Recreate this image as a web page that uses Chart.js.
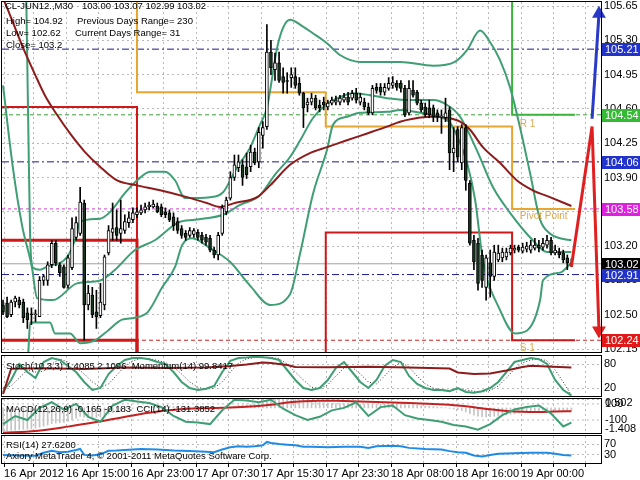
<!DOCTYPE html>
<html><head><meta charset="utf-8">
<script src="https://cdn.jsdelivr.net/npm/chart.js@4.4.1/dist/chart.umd.min.js"></script>
<style>
html,body{margin:0;padding:0;background:#fff;}
#wrap{position:relative;width:640px;height:480px;overflow:hidden;background:#fff;}
canvas{position:absolute;left:0;}
.t{position:absolute;font:9.5px "Liberation Sans",Arial,sans-serif;color:#000;white-space:pre;line-height:12px;z-index:10;}
</style></head><body>
<div id="wrap">
<canvas id="cMain" width="640" height="360" style="top:0px"></canvas>
<canvas id="cStoch" width="640" height="56" style="top:346px"></canvas>
<canvas id="cMacd" width="640" height="49" style="top:390px"></canvas>
<canvas id="cRsi" width="640" height="52" style="top:428px"></canvas>
<div class="t" style="left:5px;top:0px">CL-JUN12.,M30</div>
<div class="t" style="left:82px;top:0px">103.00 103.07 102.99 103.02</div>
<div class="t" style="left:6px;top:15px">High= 104.92</div>
<div class="t" style="left:77px;top:15px">Previous Days Range= 230</div>
<div class="t" style="left:6px;top:27px">Low= 102.62</div>
<div class="t" style="left:75px;top:27px">Current Days Range= 31</div>
<div class="t" style="left:6px;top:39px">Close= 103.2</div>
<div class="t" style="left:6px;top:360px">Stoch(10,3,3) 1.4085 2.1096  Momentum(14) 99.8417</div>
<div class="t" style="left:6px;top:403px">MACD(12,26,9) -0.165 -0.183  CCI(14) -131.3852</div>
<div class="t" style="left:6px;top:439px">RSI(14) 27.6200</div>
<div class="t" style="left:6px;top:450px">Axiory MetaTrader 4, © 2001-2011 MetaQuotes Software Corp.</div>
</div>
<script>
// ---------------- DATA ----------------
const timeLabels = ['16 Apr 2012','16 Apr 15:00','16 Apr 23:00','17 Apr 07:30','17 Apr 15:30','17 Apr 23:30','18 Apr 08:00','18 Apr 16:00','19 Apr 00:00'];
const priceTicks = [102.15,102.50,102.85,103.20,103.55,103.90,104.25,104.60,104.95,105.30,105.65];

const opens = [102.60,102.62,102.50,102.63,102.65,102.63,102.52,102.51,102.50,102.48,
102.85,102.85,103.01,103.23,103.01,102.99,102.80,102.98,103.29,103.33,
103.64,102.60,102.70,102.53,102.49,102.60,103.13,103.34,103.39,103.33,
103.36,103.44,103.47,103.52,103.54,103.57,103.60,103.60,103.61,103.60,
103.55,103.54,103.50,103.45,103.38,103.33,103.31,103.32,103.34,103.31,
103.29,103.28,103.16,103.11,103.33,103.55,103.69,103.90,104.00,104.03,
104.01,104.01,104.16,104.06,104.33,104.42,105.18,105.00,105.07,104.93,
104.89,104.92,104.93,104.86,104.76,104.64,104.67,104.71,104.64,104.67,
104.62,104.66,104.67,104.67,104.69,104.72,104.71,104.76,104.67,104.67,
104.62,104.56,104.82,104.82,104.77,104.81,104.84,104.86,104.86,104.81,
104.56,104.79,104.77,104.66,104.62,104.61,104.61,104.56,104.52,104.51,
104.59,104.15,104.39,104.05,104.41,103.84,103.26,103.23,103.11,102.78,
103.03,102.89,103.06,103.08,103.09,103.13,103.16,103.19,103.15,103.17,
103.16,103.18,103.21,103.19,103.21,103.26,103.13,103.14,103.13,103.08,
103.00];
const highs = [102.65,102.68,102.65,102.69,102.68,102.66,102.57,102.57,102.55,102.89,
102.91,103.04,103.26,103.26,103.03,103.01,103.11,103.49,103.50,103.80,
103.67,102.80,102.78,102.75,102.82,103.11,103.41,103.64,103.57,103.67,
103.52,103.55,103.59,103.59,103.62,103.64,103.65,103.67,103.64,103.63,
103.59,103.57,103.54,103.49,103.41,103.36,103.39,103.38,103.37,103.34,
103.32,103.31,103.19,103.34,103.62,103.70,103.96,104.13,104.13,104.08,
104.15,104.23,104.20,104.41,104.47,105.46,105.30,105.17,105.18,105.02,
104.97,105.02,105.02,104.92,104.77,104.71,104.76,104.74,104.69,104.72,
104.69,104.72,104.73,104.74,104.76,104.77,104.79,104.81,104.76,104.71,
104.66,104.84,104.86,104.86,104.86,104.92,104.93,104.89,104.89,104.84,
104.89,104.89,104.79,104.69,104.66,104.69,104.64,104.59,104.59,104.71,
104.62,104.41,104.42,104.44,104.44,103.87,103.31,103.28,103.16,103.11,
103.16,103.21,103.21,103.18,103.18,103.21,103.21,103.21,103.23,103.24,
103.26,103.28,103.26,103.28,103.31,103.29,103.21,103.18,103.16,103.11,
103.07];
const lows = [102.50,102.47,102.48,102.58,102.57,102.42,102.36,102.40,102.43,102.48,
102.80,102.80,102.98,103.00,102.89,102.77,102.77,102.96,103.26,103.31,
102.24,102.55,102.47,102.36,102.47,102.55,103.11,103.26,103.26,103.23,
103.33,103.39,103.44,103.49,103.52,103.54,103.57,103.59,103.54,103.50,
103.49,103.45,103.36,103.33,103.28,103.26,103.29,103.29,103.26,103.23,
103.21,103.14,103.08,103.06,103.31,103.52,103.67,103.87,103.96,103.82,
103.89,103.96,104.03,104.00,104.20,104.39,104.95,104.89,104.87,104.76,
104.76,104.82,104.81,104.74,104.41,104.57,104.64,104.59,104.57,104.59,
104.59,104.64,104.64,104.64,104.67,104.64,104.69,104.66,104.64,104.59,
104.54,104.54,104.76,104.74,104.74,104.79,104.81,104.79,104.77,104.52,
104.54,104.72,104.64,104.57,104.52,104.51,104.47,104.47,104.35,104.47,
103.98,103.96,104.06,103.98,103.77,103.21,102.96,102.75,102.78,102.65,
102.68,102.85,103.04,103.04,103.06,103.11,103.13,103.14,103.13,103.14,
103.13,103.16,103.14,103.16,103.18,103.11,103.11,103.08,103.03,102.96,
102.99];
const closes = [102.53,102.48,102.63,102.67,102.60,102.47,102.45,102.50,102.51,102.85,
102.89,103.01,103.23,103.03,102.93,102.78,103.08,103.38,103.44,103.65,
102.60,102.72,102.50,102.48,102.63,103.09,103.36,103.38,103.31,103.38,
103.45,103.49,103.54,103.55,103.57,103.60,103.62,103.63,103.55,103.52,
103.52,103.47,103.41,103.36,103.31,103.29,103.36,103.36,103.29,103.26,
103.24,103.16,103.11,103.31,103.59,103.67,103.90,104.03,104.06,103.90,
103.93,104.16,104.05,104.36,104.41,105.18,105.02,105.07,104.89,104.87,
104.88,104.95,104.84,104.76,104.61,104.67,104.71,104.61,104.61,104.64,
104.66,104.69,104.69,104.71,104.72,104.67,104.76,104.69,104.72,104.62,
104.56,104.81,104.79,104.77,104.82,104.86,104.87,104.82,104.81,104.54,
104.81,104.74,104.66,104.59,104.54,104.54,104.52,104.52,104.53,104.56,
104.15,104.20,104.11,104.41,103.87,103.23,103.04,102.82,102.85,103.08,
102.89,103.14,103.13,103.14,103.14,103.18,103.18,103.16,103.19,103.20,
103.21,103.21,103.18,103.23,103.26,103.13,103.16,103.11,103.06,103.03,
103.02];

// moving average (dark red)
const maBars = [0,1.7,3.7,5.4,7.9,10.3,13.3,16.5,20.2,23.9,28.1,33.0,38.7,45.3,50.2,53.4,57.1,62.6,65.8,70.7,75.6,79.8,84.7,89.7,94.6,97.8,101.0,105.2,109.4,112.6,115.0,118.2,122.4,126.6,130.5,134.7,140.0];
const maVals = [105.73,105.56,105.35,105.18,104.95,104.74,104.54,104.35,104.16,104.01,103.87,103.82,103.77,103.70,103.64,103.60,103.64,103.70,103.82,104.03,104.15,104.21,104.28,104.35,104.42,104.47,104.50,104.52,104.51,104.47,104.39,104.21,104.05,103.87,103.77,103.70,103.61];

// Bollinger bands (green)
const bandUpBars = [5.7,6.2,6.7,7.4,9.1,10.8,15.8,17.7,19.0,23.9,26.4,30.0,33.0,36.2,39.9,42.4,44.8,51.0,54.2,57.6,60.8,63.3,65.0,67.5,69.0,70.7,73.9,76.4,79.8,83.0,87.9,97.8,106.0,111.3,114.3,117.5,120.0,122.4,124.9,127.3,129.8,132.3,134.7,137.2,140.0];
const bandUpVals = [105.81,104.49,103.26,102.98,102.96,102.99,103.09,103.26,103.45,103.48,103.55,103.74,103.87,103.96,103.96,103.87,103.69,103.70,103.75,104.00,104.20,104.44,104.61,105.22,105.43,105.51,105.44,105.37,105.27,105.15,105.08,105.08,105.04,105.08,105.20,105.40,105.28,105.10,104.82,104.42,103.95,103.47,103.33,103.28,103.26];
const bandMidBars = [0,2.5,4.7,7.1,8.4,12.3,18.2,23.9,27.6,32.5,37.4,43.1,47.3,54.2,58.4,63.3,67.0,70.7,73.2,76.4,79.8,83.0,86.2,90.4,94.6,101.0,106.0,109.4,112.6,116.7,120.7,124.9,130.5,134.0,140.0];
const bandMidVals = [104.84,103.98,103.41,102.99,102.67,102.65,102.82,102.85,102.96,103.16,103.26,103.44,103.47,103.52,103.62,103.72,103.93,104.11,104.28,104.51,104.65,104.72,104.76,104.74,104.71,104.69,104.69,104.64,104.52,104.18,103.80,103.54,103.26,103.14,103.14];
const bandLowBars = [6.2,6.7,11.6,12.8,16.5,19.0,22.7,25.9,29.3,32.5,35.7,39.2,42.4,44.1,46.6,51.0,55.9,60.8,65.8,70.7,73.2,76.4,79.8,81.3,84.7,87.9,94.6,97.8,102.7,107.6,110.1,112.6,114.3,116.3,118.2,122.4,126.1,129.1,132.3,133.0,137.2,140.0];
const bandLowVals = [102.09,102.42,102.42,102.31,102.31,102.21,102.24,102.34,102.45,102.47,102.53,102.78,102.99,103.21,103.28,103.18,103.04,102.80,102.60,102.71,103.13,103.74,104.18,104.44,104.52,104.56,104.57,104.59,104.56,104.52,104.46,104.25,104.05,103.67,103.06,102.55,102.31,102.34,102.65,102.85,102.93,103.03];

// daily pivot levels (step lines)
const dayStartBars = [-0.25,33,79.5,125.4];
const dayEndBar = 140.9;
const pivotVals = [106.2,104.77,104.42,103.58];
const r1Vals = [107.5,107.0,106.3,104.54];
const s1Vals = [104.62,101.6,103.34,102.24];
const s2Vals = [103.26,100.8,101.9,101.28];
const s3Vals = [102.24,100.0,101.0,100.1];

// horizontal levels with right-hand labels
const levelVals = [105.21,104.54,104.06,103.58,103.02,102.91,102.24];

// forecast arrows
const arrowRedBars = [140,145.1,146.8];
const arrowRedVals = [102.99,104.42,102.34];
const arrowBlueBars = [145.1,146.8];
const arrowBlueVals = [104.50,105.57];

// text labels on chart
const annoTexts = ['R 1','Pivot Point','S 1'];
const annoBars = [127.3,127.3,127.3];
const annoVals = [104.44,103.50,102.16];

// Stochastic + Momentum
const stochBars = [0,2,4,6,8,10,12,14,16,18,20,22,24,26,28,30,32,34,36,38,40,42,44,46,48,50,52,54,56,58,60,62,64,66,68,70,72,74,76,78,80,82,84,86,88,90,92,94,96,98,100,102,104,106,108,110,112,114,116,118,120,122,124,126,128,130,132,134,136,138,140];
const stochMain = [10,40,80,60,45,85,95,90,75,60,35,15,20,55,75,90,95,95,92,85,80,60,35,20,15,18,25,60,88,95,96,98,97,95,90,65,40,20,15,20,40,70,85,60,35,20,40,75,90,85,50,30,20,15,15,12,20,10,8,12,20,35,60,85,90,95,92,80,40,15,1.4];
const stochSignal = [20,25,45,65,60,62,80,92,85,72,55,35,22,30,52,75,88,94,93,89,84,72,55,35,22,17,20,35,60,82,93,96,97,96,93,80,60,40,22,18,28,50,70,72,55,35,30,50,72,85,72,50,30,20,16,14,16,15,12,10,14,25,45,68,83,90,93,88,65,35,2.1];
const momBars = [0,2,10,20,30,40,50,56,60,64,66,70,72,80,90,100,110,112,116,120,124,128,130,134,140];
const momVals = [97.2,99.72,99.78,99.7,99.85,99.8,99.85,100.0,100.15,100.35,100.3,100.1,99.9,99.88,99.92,99.85,99.75,99.35,99.2,99.25,99.55,99.9,100.02,99.95,99.84];
const stochLevels = [20,80];

// MACD + CCI
const macdHist = [-1.30,-1.28,-1.26,-1.25,-1.22,-1.20,-1.19,-1.17,-1.14,-1.08,
-1.02,-0.96,-0.88,-0.85,-0.83,-0.82,-0.76,-0.67,-0.58,-0.48,
-0.52,-0.52,-0.53,-0.54,-0.52,-0.44,-0.35,-0.28,-0.23,-0.18,
-0.13,-0.08,-0.04,0.00,0.03,0.06,0.08,0.10,0.11,0.11,
0.11,0.10,0.08,0.06,0.04,0.02,0.01,0.00,-0.01,-0.02,
-0.04,-0.06,-0.08,-0.08,-0.04,0.00,0.05,0.10,0.14,0.16,
0.18,0.20,0.22,0.26,0.30,0.40,0.45,0.48,0.50,0.50,
0.49,0.48,0.47,0.45,0.42,0.40,0.38,0.36,0.33,0.30,
0.28,0.26,0.25,0.24,0.23,0.22,0.22,0.21,0.21,0.20,
0.19,0.19,0.20,0.20,0.21,0.21,0.22,0.22,0.21,0.20,
0.18,0.17,0.15,0.13,0.11,0.09,0.07,0.05,0.03,0.02,
-0.03,-0.07,-0.11,-0.15,-0.22,-0.32,-0.40,-0.46,-0.49,-0.50,
-0.49,-0.47,-0.45,-0.42,-0.39,-0.36,-0.32,-0.28,-0.25,-0.22,
-0.19,-0.17,-0.15,-0.13,-0.12,-0.12,-0.13,-0.14,-0.15,-0.16,
-0.165];
const macdSigBars = [0,8,16,24,32,40,48,56,62,66,70,74,78,82,88,94,100,106,112,116,120,124,128,132,136,140];
const macdSigVals = [-1.40,-1.30,-1.05,-0.75,-0.42,-0.15,-0.02,0.02,0.10,0.18,0.30,0.38,0.41,0.40,0.36,0.32,0.28,0.22,0.14,0.04,-0.08,-0.17,-0.22,-0.23,-0.20,-0.183];
const macdTicks = [0.502,-1.408];
const cciBars = [0,3,6,9,12,15,18,21,24,27,30,33,36,39,42,45,48,51,54,57,60,63,66,69,72,75,78,81,84,87,90,93,96,99,102,105,108,111,114,117,120,123,126,129,132,135,138,140];
const cciVals = [-150,-50,-100,50,120,30,100,-60,-120,80,150,130,110,60,-50,-120,-130,-150,20,150,140,120,150,40,-40,-100,-60,20,50,120,-50,60,80,-40,-80,-100,-120,-160,-180,-220,-150,-40,30,60,80,-20,-180,-131.4];
const cciLevels = [100,-100];

// RSI
const rsiBars = [0,4,8,10,12,14,16,18,19,20,22,24,26,28,30,34,38,42,46,50,52,54,56,58,60,62,64,65,66,68,70,72,74,76,80,84,88,90,92,96,98,100,104,108,110,112,114,116,118,120,122,126,130,134,136,138,140];
const rsiVals = [30,28,27,38,45,40,42,48,52,30,28,32,45,46,48,52,50,46,44,42,40,50,58,62,60,62,66,78,74,70,68,66,60,60,58,60,60,56,62,64,62,56,52,50,44,40,38,28,24,30,34,36,38,38,34,30,27.62];
const rsiLevels = [30,70];

// ---------------- STYLE / HELPERS ----------------
const FONT_FAMILY = '"Liberation Sans", Arial, sans-serif';
const GRID_COLOR = '#b9b9b9';
const X_MIN = -0.25, X_MAX = 147.3, BARS_PER_GRID = 8;
const BAND_COLOR = '#3f9e74';
const levelLineColors = ['#1a1a8c','#3aa03a','#1a1a8c','#d040d0','#a0a0a0','#1a1a8c','#d02020'];
const levelDashes = [[7,3,2,3],[4,3],[7,3,2,3],[3,3],[],[7,3,2,3],[4,3]];
const levelBoxColors = ['#2233cc','#33bb33','#2233cc','#e020e0','#000000','#2233cc','#e01818'];

function pts(xs, ys){ return xs.map((x,k)=>({x:x, y:ys[k]})); }
function steps(vals){ const d = dayStartBars.map((x,k)=>({x:x, y:vals[k]})); d.push({x:dayEndBar, y:vals[vals.length-1]}); return d; }

function xAxis(show){
  return {type:'linear', min:X_MIN, max:X_MAX, offset:false,
    afterBuildTicks(s){ const t=[]; for(let k=0;k<=18;k++){ t.push({value:Math.max(k*BARS_PER_GRID-0.4,0.25)}); } s.ticks=t; },
    afterFit(s){ s.height = show?17:0; s.paddingLeft=0; s.paddingRight=0; },
    grid:{color:GRID_COLOR, lineWidth:1, offset:false, drawTicks:show, tickLength:4, tickColor:'#000'},
    border:{display:false, dash:[2,3]},
    ticks:{display:show, autoSkip:false, maxRotation:0, minRotation:0, align:'start', padding:0, color:'#000',
      font:{family:FONT_FAMILY,size:11},
      callback:(v,i)=> (i%2===0 && timeLabels[i/2]) ? timeLabels[i/2] : ''}
  };
}
function yRight(min,max,ticks,fmt){
  return {position:'right', min:min, max:max,
    afterBuildTicks(s){ s.ticks = ticks.map(v=>({value:v})); },
    afterFit(s){ s.width = 39; s.paddingTop=0; s.paddingBottom=0; },
    grid:{color:GRID_COLOR, drawTicks:false},
    border:{display:false, dash:[2,3]},
    ticks:{padding:3, color:'#000', font:{family:FONT_FAMILY,size:11}, callback:fmt}};
}
const framePlugin = {id:'frame', afterDraw(chart){
  const {ctx, chartArea:a} = chart;
  ctx.save(); ctx.strokeStyle='#000'; ctx.lineWidth=1;
  ctx.strokeRect(Math.round(a.left)-0.5, Math.round(a.top)-0.5, Math.round(a.right-a.left)+1, Math.round(a.bottom-a.top)+1);
  ctx.restore();
}};
const levelPlugin = {id:'levels', afterDraw(chart){
  const {ctx, chartArea:a, scales} = chart;
  ctx.save();
  ctx.font = '11px '+FONT_FAMILY; ctx.textBaseline='middle'; ctx.textAlign='left';
  levelVals.forEach((v,k)=>{
    const py = Math.round(scales.y.getPixelForValue(v));
    ctx.fillStyle = levelBoxColors[k];
    ctx.fillRect(a.right+1, py-6, 640-a.right-1, 13);
    ctx.fillStyle = '#ffffff';
    ctx.fillText(v.toFixed(2), a.right+4, py+1);
  });
  ctx.font = '10px '+FONT_FAMILY; ctx.fillStyle='#dca850';
  annoTexts.forEach((t,k)=>{ ctx.fillText(t, scales.x.getPixelForValue(annoBars[k]), scales.y.getPixelForValue(annoVals[k])); });
  ctx.restore();
}};
// MACD window: MT4 prints the window max/min just inside the frame, plus CCI levels
const macdLabelPlugin = {id:'macdlab', afterDraw(chart){
  const {ctx, chartArea:a, scales} = chart;
  ctx.save(); ctx.font='11px '+FONT_FAMILY; ctx.fillStyle='#000'; ctx.textAlign='left';
  ctx.textBaseline='top'; ctx.fillText(macdTicks[0].toFixed(3), a.right+4, a.top-2);
  ctx.textBaseline='bottom'; ctx.fillText(macdTicks[1].toFixed(3), a.right+4, a.bottom+1);
  ctx.textBaseline='middle';
  cciLevels.forEach(v=>{ ctx.fillText(String(v), a.right+4, scales.yCci.getPixelForValue(v)); });
  ctx.restore();
}};

const common = {responsive:false, animation:false, events:[], plugins:{legend:{display:false}, tooltip:{enabled:false}}};
function lay(top, bottom){ return {autoPadding:false, padding:{left:2, right:0, top:top, bottom:bottom}}; }
function line(data, color, width, extra){ return Object.assign({type:'line', data:data, borderColor:color, borderWidth:width, pointRadius:0, fill:false, tension:0}, extra||{}); }

// ---------------- MAIN CHART ----------------
const bodyData = opens.map((o,i)=>({x:i, y:[o, closes[i]]}));
const wickData = lows.map((l,i)=>({x:i, y:[l, highs[i]]}));
const bodyFill = opens.map((o,i)=> closes[i] >= o ? '#ffffff' : '#17381f');
const fullSpan = v => [{x:X_MIN,y:v},{x:X_MAX,y:v}];

const mainDatasets = [
  {type:'bar', data:bodyData, backgroundColor:bodyFill, borderColor:'#000', borderWidth:1, borderSkipped:false, barThickness:3, grouped:false, minBarLength:1, order:1},
  {type:'bar', data:wickData, backgroundColor:'#000', borderWidth:0, barThickness:1, grouped:false, order:2},
  line(pts(arrowRedBars, arrowRedVals), '#e02020', 3, {order:0, pointStyle:'triangle', pointRotation:180, pointRadius:c=>c.dataIndex===arrowRedBars.length-1?5:0, pointBackgroundColor:'#e02020', pointBorderColor:'#e02020', clip:false}),
  line(pts(arrowBlueBars, arrowBlueVals), '#2a3ac8', 3, {order:0, pointStyle:'triangle', pointRotation:0, pointRadius:c=>c.dataIndex===arrowBlueBars.length-1?5:0, pointBackgroundColor:'#2a3ac8', pointBorderColor:'#2a3ac8', clip:false}),
  line(pts(maBars, maVals), '#8e1c1c', 2, {order:3, cubicInterpolationMode:'monotone'}),
  line(pts(bandUpBars, bandUpVals), BAND_COLOR, 2, {order:4, cubicInterpolationMode:'monotone'}),
  line(pts(bandMidBars, bandMidVals), BAND_COLOR, 2, {order:4, cubicInterpolationMode:'monotone'}),
  line(pts(bandLowBars, bandLowVals), BAND_COLOR, 2, {order:4, cubicInterpolationMode:'monotone'}),
  line(steps(pivotVals), '#e8a530', 2, {order:5, stepped:'before'}),
  line(steps(r1Vals), '#3cb43c', 2, {order:5, stepped:'before'}),
  line(steps(s1Vals), '#d01818', 2, {order:5, stepped:'before'}),
  line(steps(s2Vals), '#d01818', 3, {order:5, stepped:'before'}),
  line(steps(s3Vals), '#d01818', 3, {order:5, stepped:'before'})
];
levelVals.forEach((v,k)=>{ mainDatasets.push(line(fullSpan(v), levelLineColors[k], 1, {order:6, borderDash:levelDashes[k]})); });

new Chart(document.getElementById('cMain'), {
  type:'bar',
  data:{datasets:mainDatasets},
  options:Object.assign({}, common, {
    layout:lay(2,8),
    scales:{ x:xAxis(false), y:yRight(102.12, 105.691, priceTicks, v=>Number(v).toFixed(2)) }
  }),
  plugins:[framePlugin, levelPlugin]
});

// ---------------- STOCH / MOMENTUM ----------------
new Chart(document.getElementById('cStoch'), {
  type:'line',
  data:{datasets:[
    line(pts(stochBars, stochMain), BAND_COLOR, 2, {order:1, yAxisID:'y'}),
    line(pts(stochBars, stochSignal), '#333333', 1, {order:2, borderDash:[1,2], yAxisID:'y'}),
    line(pts(momBars, momVals), '#8e1c1c', 2, {order:0, yAxisID:'yMom'})
  ]},
  options:Object.assign({}, common, {
    layout:lay(10,6),
    scales:{ x:xAxis(false), y:yRight(0,100,stochLevels,v=>String(v)), yMom:{display:false, min:97, max:101} }
  }),
  plugins:[framePlugin]
});

// ---------------- MACD / CCI ----------------
new Chart(document.getElementById('cMacd'), {
  type:'bar',
  data:{datasets:[
    {type:'bar', data:macdHist.map((v,i)=>({x:i,y:v})), backgroundColor:'#c4c4c4', barThickness:1, grouped:false, yAxisID:'y', order:3},
    line(pts(macdSigBars, macdSigVals), '#c42222', 2, {order:1, yAxisID:'y', cubicInterpolationMode:'monotone'}),
    line(pts(cciBars, cciVals), BAND_COLOR, 2, {order:0, yAxisID:'yCci'}),
    line(fullSpan(cciLevels[0]), GRID_COLOR, 1, {order:4, borderDash:[2,3], yAxisID:'yCci'}),
    line(fullSpan(cciLevels[1]), GRID_COLOR, 1, {order:4, borderDash:[2,3], yAxisID:'yCci'})
  ]},
  options:Object.assign({}, common, {
    layout:lay(9,6),
    scales:{ x:xAxis(false), y:yRight(-1.408,0.502,macdTicks,()=>''), yCci:{display:false, min:-260, max:160} }
  }),
  plugins:[framePlugin, macdLabelPlugin]
});

// ---------------- RSI ----------------
new Chart(document.getElementById('cRsi'), {
  type:'line',
  data:{datasets:[ line(pts(rsiBars, rsiVals), '#1e8ce6', 2, {yAxisID:'y'}) ]},
  options:Object.assign({}, common, {
    layout:lay(8,0),
    scales:{ x:xAxis(true), y:yRight(0,100,rsiLevels,v=>String(v)) }
  }),
  plugins:[framePlugin]
});
</script>
</body></html>
